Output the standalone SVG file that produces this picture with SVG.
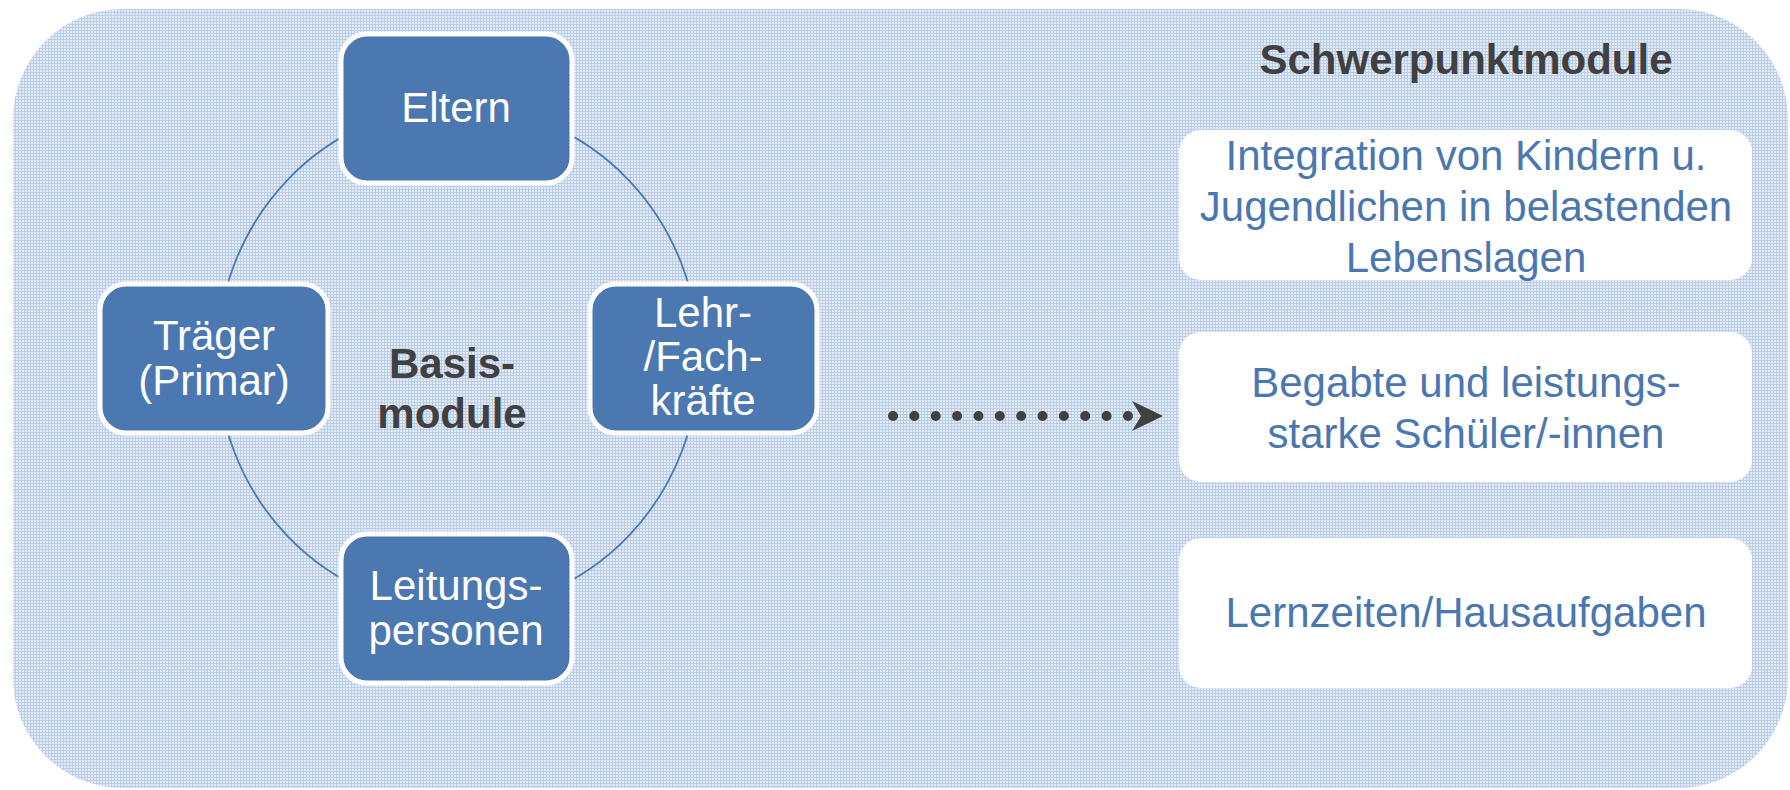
<svg xmlns="http://www.w3.org/2000/svg" width="1790" height="790" viewBox="0 0 1790 790">
<style>
.bg-seam{stroke:#c3d3e9;stroke-width:1.5;stroke-dasharray:2 2}
.basis rect{fill:#4b78b0;stroke:#ffffff;stroke-width:5}
.basis text{fill:#ffffff;font-family:"Liberation Sans",Arial,sans-serif;font-size:42px;text-anchor:middle}
.focus rect{fill:#ffffff}
.focus text{fill:#4a77b0;font-family:"Liberation Sans",Arial,sans-serif;font-size:42px;text-anchor:middle}
.title{fill:#404040;font-family:"Liberation Sans",Arial,sans-serif;font-size:42px;font-weight:bold;text-anchor:middle}
.arc{fill:none;stroke:#4a7ab5;stroke-width:1.8}
.dots{fill:none;stroke:#404040;stroke-width:10;stroke-linecap:round;stroke-dasharray:0 21.36}
</style>
<defs>
<pattern id="grid" width="3" height="3" patternUnits="userSpaceOnUse">
<rect width="3" height="3" fill="#e3ebf6"/>
<rect width="1" height="3" fill="#bccee7"/>
<rect width="3" height="1" fill="#bccee7"/>
</pattern>
<marker id="stealth" viewBox="0 0 31 30" markerWidth="31" markerHeight="30" refX="9" refY="15" markerUnits="userSpaceOnUse" orient="auto">
<path d="M0,0 L31,15 L0,30 L9,15 Z" fill="#404040"/>
</marker>
</defs>
<rect width="1790" height="790" fill="#ffffff"/>
<g id="background">
<rect x="13" y="9" width="1775" height="779" rx="110" ry="110" fill="url(#grid)"/>
<line class="bg-seam" x1="13" y1="130" x2="1788" y2="130"/>
<line class="bg-seam" x1="13" y1="310" x2="1788" y2="310"/>
<line class="bg-seam" x1="13" y1="490" x2="1788" y2="490"/>
<line class="bg-seam" x1="13" y1="670" x2="1788" y2="670"/>
</g>
<g id="connectors">
<path class="arc" d="M458,106 A241,252 0 0 1 699,358"/>
<path class="arc" d="M699,358 A241,252 0 0 1 458,610"/>
<path class="arc" d="M458,610 A241,252 0 0 1 217,358"/>
<path class="arc" d="M217,358 A241,252 0 0 1 458,106"/>
<path class="dots" d="M893,416 L1141,416" marker-end="url(#stealth)"/>
</g>
<g id="label-basis">
<text class="title" x="452" y="378">Basis-</text>
<text class="title" x="452" y="428">module</text>
</g>
<g id="node-eltern" class="basis">
<rect x="341" y="34" width="231" height="149" rx="26"/>
<text x="456" y="122">Eltern</text>
</g>
<g id="node-traeger" class="basis">
<rect x="100" y="284" width="228" height="149" rx="26"/>
<text x="214" y="350">Träger</text>
<text x="214" y="395">(Primar)</text>
</g>
<g id="node-lehr" class="basis">
<rect x="590" y="284" width="227" height="149" rx="26"/>
<text x="703" y="327">Lehr-</text>
<text x="703" y="371">/Fach-</text>
<text x="703" y="415">kräfte</text>
</g>
<g id="node-leitung" class="basis">
<rect x="341" y="534" width="231" height="149" rx="26"/>
<text x="456" y="600">Leitungs-</text>
<text x="456" y="645">personen</text>
</g>
<g id="label-schwerpunkt">
<text class="title" x="1466" y="74">Schwerpunktmodule</text>
</g>
<g id="node-integration" class="focus">
<rect x="1179" y="130" width="573" height="150" rx="22"/>
<text x="1466" y="170">Integration von Kindern u.</text>
<text x="1466" y="221">Jugendlichen in belastenden</text>
<text x="1466" y="272">Lebenslagen</text>
</g>
<g id="node-begabte" class="focus">
<rect x="1179" y="332" width="573" height="150" rx="22"/>
<text x="1466" y="397">Begabte und leistungs-</text>
<text x="1466" y="448">starke Schüler/-innen</text>
</g>
<g id="node-lernzeiten" class="focus">
<rect x="1179" y="538" width="573" height="150" rx="22"/>
<text x="1466" y="627">Lernzeiten/Hausaufgaben</text>
</g>
</svg>
